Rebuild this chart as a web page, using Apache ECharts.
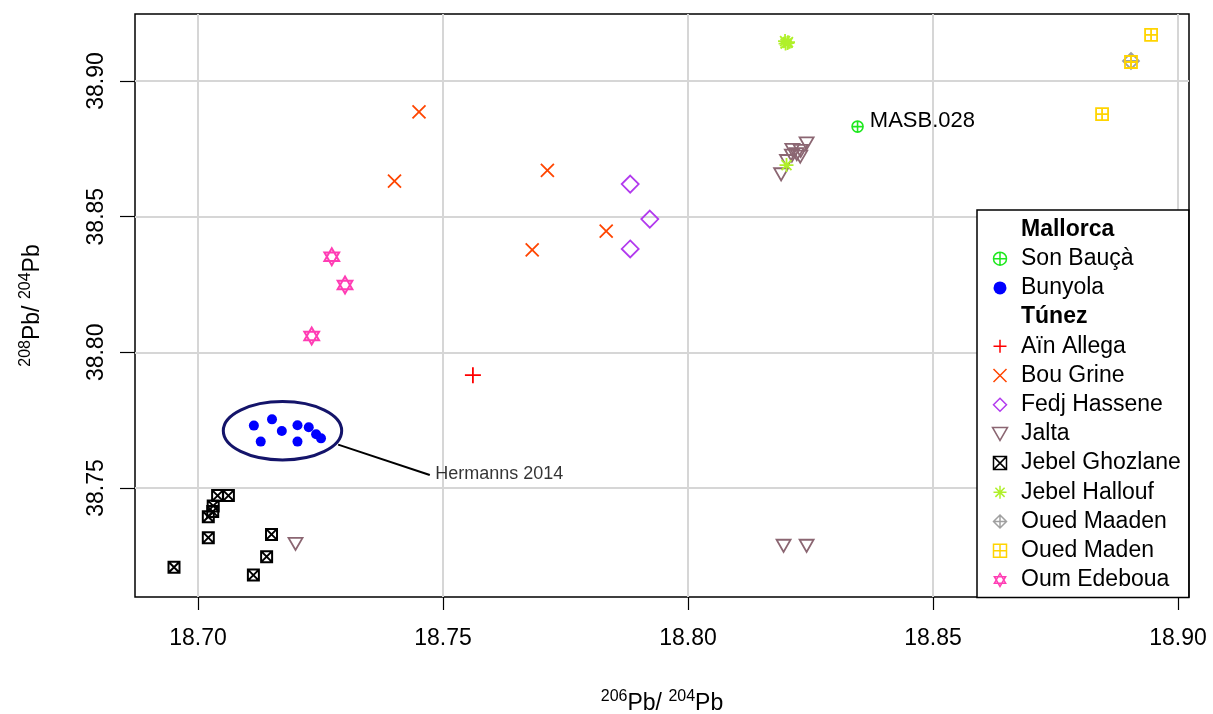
<!DOCTYPE html>
<html><head><meta charset="utf-8">
<script src="https://cdn.jsdelivr.net/npm/echarts@6/dist/echarts.min.js"></script>
<style>html,body{margin:0;padding:0;background:#fff}#c{width:1213px;height:714px}</style>
</head><body><div id="c"></div>
<script>
// ---- data ----
const xTicks = [18.70, 18.75, 18.80, 18.85, 18.90];
const yTicks = [38.75, 38.80, 38.85, 38.90];
const xRange = [18.68714, 18.90224];
const yRange = [38.70983, 38.92469];

const sonBauca = [[18.8346, 38.8832]];
const bunyola = [[18.7114, 38.7730],[18.7151, 38.7753],[18.7171, 38.7710],[18.7203, 38.7731],[18.7226, 38.7724],[18.7241, 38.7698],[18.7251, 38.7683],[18.7128, 38.7671],[18.7203, 38.7671]];
const ainAllega = [[18.7561, 38.7916]];
const bouGrine = [[18.7451, 38.8886],[18.7401, 38.8631],[18.7713, 38.8671],[18.7833, 38.8447],[18.7682, 38.8378]];
const fedjHassene = [[18.7882, 38.8620],[18.7922, 38.8491],[18.7882, 38.8381]];
const jalta = [[18.7199, 38.7294],[18.8195, 38.7287],[18.8242, 38.7287],[18.8190, 38.8656],[18.8202, 38.8705],[18.8212, 38.8725],[18.8213, 38.8746],[18.8230, 38.8742],[18.8242, 38.8770],[18.8222, 38.8730],[18.8229, 38.8721]];
const jebelGhozlane = [[18.7040, 38.7472],[18.7062, 38.7472],[18.7031, 38.7434],[18.7030, 38.7413],[18.7021, 38.7394],[18.7021, 38.7317],[18.7150, 38.7329],[18.7140, 38.7247],[18.7113, 38.7179],[18.6951, 38.7208]];
const jebelHallouf = [[18.8198, 38.9147],[18.8204, 38.9143],[18.8199, 38.9138],[18.8203, 38.9140],[18.8201, 38.8690]];
const ouedMaaden = [[18.8904, 38.9074]];
const ouedMaden = [[18.8945, 38.9170],[18.8904, 38.9070],[18.8845, 38.8878]];
const oumEdeboua = [[18.7273, 38.8352],[18.7300, 38.8248],[18.7232, 38.8060]];

const ellipse = [[18.71724, 38.77109, 0.01208, 0.01076]];
const pointerLine = [[18.7286, 38.7660],[18.7473, 38.7548]];
const pointerText = [[18.7484, 38.7553]];
const labels = {masb: 'MASB.028', hermanns: 'Hermanns 2014'};

// ---- symbols ----
const SYM = {
  circlePlus: 'path://M0,5 A5,5 0 1,1 10,5 A5,5 0 1,1 0,5 Z M5,0 L5,10 M0,5 L10,5',
  plus: 'path://M5,0 L5,10 M0,5 L10,5',
  cross: 'path://M0,0 L10,10 M10,0 L0,10',
  diamond: 'path://M5,0 L10,5 L5,10 L0,5 Z',
  triDown: 'path://M0,0 L10,0 L5,8.66 Z',
  boxX: 'path://M0,0 L10,0 L10,10 L0,10 Z M0,0 L10,10 M10,0 L0,10',
  asterisk: 'path://M5,0 L5,10 M0,5 L10,5 M1.46,1.46 L8.54,8.54 M8.54,1.46 L1.46,8.54',
  diamondPlus: 'path://M5,0 L10,5 L5,10 L0,5 Z M5,0 L5,10 M0,5 L10,5',
  boxPlus: 'path://M0,0 L10,0 L10,10 L0,10 Z M5,0 L5,10 M0,5 L10,5',
  star: 'path://M5,0 L10,8.66 L0,8.66 Z M0,2.89 L10,2.89 L5,11.55 Z'
};
const FONT = "'Liberation Sans', Arial, Helvetica, sans-serif";

function hollow(name, data, symbol, size, color, lw) {
  return {type:'scatter', name, data, symbol, symbolSize:size, symbolKeepAspect:true, silent:true,
    itemStyle:{color:'rgba(0,0,0,0)', borderColor:color, borderWidth:lw, opacity:1}, z:3};
}

const sonData = sonBauca.map((v,i)=> i===0 ? {value:v, label:{show:true, formatter:labels.masb, position:'right', distance:6, offset:[0,-6], fontSize:22, color:'#000', fontFamily:FONT}} : v);

const series = [
  {type:'custom', name:'ellipse', coordinateSystem:'cartesian2d', silent:true, z:2, data:ellipse,
    renderItem:(p, api)=>{ const c = api.coord([api.value(0), api.value(1)]); const s = api.size([api.value(2), api.value(3)]);
      return {type:'ellipse', shape:{cx:c[0], cy:c[1], rx:s[0], ry:s[1]}, style:{fill:'none', stroke:'#14146A', lineWidth:3}}; }},
  {type:'line', name:'pointer', data:pointerLine, symbol:'none', silent:true, z:2, lineStyle:{color:'#000', width:2}},
  {type:'scatter', name:'pointerText', data:pointerText, symbolSize:0, silent:true, z:2,
    label:{show:true, formatter:labels.hermanns, position:'right', distance:0, fontSize:18, color:'#000', fontFamily:FONT}},
  {type:'scatter', name:'Mallorca', data:[]},
  hollow('Son Bauçà', sonData, SYM.circlePlus, 11, '#1EE81E', 1.6),
  {type:'scatter', name:'Bunyola', data:bunyola, symbol:'circle', symbolSize:10, silent:true, z:3, itemStyle:{color:'#0000FF', opacity:1}},
  {type:'scatter', name:'Túnez', data:[]},
  hollow('Aïn Allega', ainAllega, SYM.plus, 16, '#FF0000', 1.8),
  hollow('Bou Grine', bouGrine, SYM.cross, 13, '#FF4500', 1.8),
  hollow('Fedj Hassene', fedjHassene, SYM.diamond, 17, '#B23AEE', 1.8),
  hollow('Jalta', jalta, SYM.triDown, 14, '#8B6672', 1.8),
  hollow('Jebel Ghozlane', jebelGhozlane, SYM.boxX, 11, '#000000', 2),
  hollow('Jebel Hallouf', jebelHallouf, SYM.asterisk, 14, '#B0F02A', 1.8),
  hollow('Oued Maaden', ouedMaaden, SYM.diamondPlus, 16, '#A0A0A0', 1.8),
  hollow('Oued Maden', ouedMaden, SYM.boxPlus, 12, '#FFD400', 1.8),
  hollow('Oum Edeboua', oumEdeboua, SYM.star, 17, '#FF3DB4', 2)
];

const legendNames = ['Mallorca','Son Bauçà','Bunyola','Túnez','Aïn Allega','Bou Grine','Fedj Hassene','Jalta','Jebel Ghozlane','Jebel Hallouf','Oued Maaden','Oued Maden','Oum Edeboua'];
const headers = ['Mallorca','Túnez'];

const chart = echarts.init(document.getElementById('c'));
chart.setOption({
  animation:false,
  backgroundColor:'#fff',
  textStyle:{fontFamily:FONT},
  grid:{left:135, right:24, top:14, bottom:117, show:true, borderColor:'#000', borderWidth:1.5, backgroundColor:'transparent', containLabel:false, outerBoundsMode:'none'},
  xAxis:{type:'value', min:xRange[0], max:xRange[1],
    axisLine:{show:false}, axisTick:{show:true, inside:false, length:13, customValues:xTicks, lineStyle:{color:'#000', width:1.2}},
    axisLabel:{customValues:xTicks, margin:30, fontSize:23, color:'#000', fontFamily:FONT, formatter:v=>v.toFixed(2)},
    splitLine:{show:true, lineStyle:{color:'#D6D6D6', width:2}},
    name:'{sup|206}{b|Pb/ }{sup|204}{b|Pb}', nameLocation:'middle', nameGap:92,
    nameTextStyle:{rich:{b:{fontSize:23, color:'#000', fontFamily:FONT, lineHeight:30}, sup:{fontSize:16, color:'#000', fontFamily:FONT, verticalAlign:'top', lineHeight:30}}}},
  yAxis:{type:'value', min:yRange[0], max:yRange[1],
    axisLine:{show:false}, axisTick:{show:true, inside:false, length:15, customValues:yTicks, lineStyle:{color:'#000', width:1.2}},
    axisLabel:{customValues:yTicks, rotate:90, margin:27, fontSize:23, color:'#000', fontFamily:FONT, formatter:v=>v.toFixed(2)},
    splitLine:{show:true, lineStyle:{color:'#D6D6D6', width:2}},
    name:'{sup|208}{b|Pb/ }{sup|204}{b|Pb}', nameLocation:'middle', nameGap:87,
    nameTextStyle:{rich:{b:{fontSize:23, color:'#000', fontFamily:FONT, lineHeight:30}, sup:{fontSize:16, color:'#000', fontFamily:FONT, verticalAlign:'top', lineHeight:30}}}},
  legend:{orient:'vertical', left:977, top:210, padding:[8, 8, 6, 7], itemWidth:32, itemHeight:13, itemGap:6.2,
    backgroundColor:'#fff', borderColor:'#000', borderWidth:1.5, borderRadius:0, selectedMode:false, z:10,
    itemStyle:{borderWidth:1.5},
    textStyle:{fontSize:23, color:'#000', fontFamily:FONT, lineHeight:23},
    data: legendNames.map(n => headers.includes(n) ? {name:n, icon:'none', textStyle:{fontWeight:'bold'}} : {name:n})},
  series
});
</script></body></html>
